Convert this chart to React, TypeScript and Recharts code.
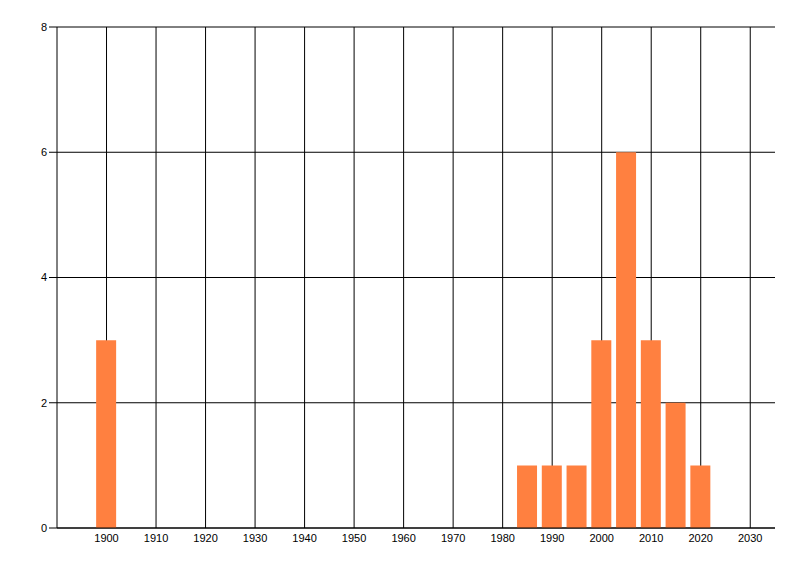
import React from "react";
import {
  BarChart,
  Bar,
  XAxis,
  YAxis,
  CartesianGrid,
} from "recharts";

const years = [1900, 1985, 1990, 1995, 2000, 2005, 2010, 2015, 2020];
const counts = [3, 1, 1, 1, 3, 6, 3, 2, 1];
const xTicks = [1900, 1910, 1920, 1930, 1940, 1950, 1960, 1970, 1980, 1990, 2000, 2010, 2020, 2030];
const yTicks = [0, 2, 4, 6, 8];

const data = years.map((year, i) => ({ year, count: counts[i] }));

const tickStyle = { fill: "#000", fontSize: 11, fontFamily: "Liberation Sans" };

export default function App() {
  return (
    <div style={{ position: "absolute", left: 0, top: 0, background: "#fff" }}>
      <BarChart
        width={800}
        height={576}
        data={data}
        margin={{ top: 27, right: 25, bottom: 22, left: 0 }}
      >
        <CartesianGrid stroke="#000" strokeWidth={1} syncWithTicks />
        <XAxis
          dataKey="year"
          type="number"
          domain={[1890, 2035]}
          ticks={xTicks}
          interval={0}
          tickLine={false}
          tickSize={0}
          tickMargin={6}
          height={26}
          stroke="#000"
          tick={tickStyle}
        />
        <YAxis
          type="number"
          domain={[0, 8]}
          ticks={yTicks}
          interval={0}
          width={57}
          tickSize={8}
          tickMargin={2}
          stroke="#000"
          tick={tickStyle}
        />
        <Bar dataKey="count" fill="#FF8040" barSize={20} isAnimationActive={false} />
      </BarChart>
    </div>
  );
}
